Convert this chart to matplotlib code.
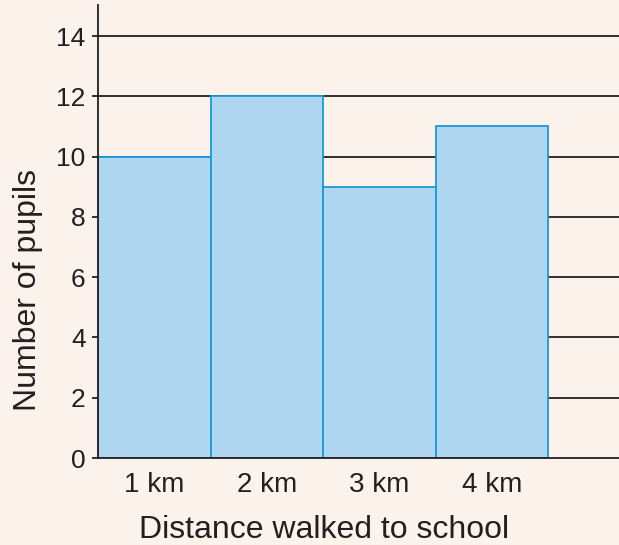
import matplotlib
matplotlib.use("Agg")
import matplotlib.pyplot as plt

distances = ["1 km", "2 km", "3 km", "4 km"]
pupils = [10, 12, 9, 11]
y_ticks = [0, 2, 4, 6, 8, 10, 12, 14]

bg = "#fcf2ec"
ink = "#231f20"

plt.rcParams["font.family"] = ["Liberation Sans", "DejaVu Sans"]

fig = plt.figure(figsize=(6.19, 5.45), dpi=100, facecolor=bg)
ax = fig.add_axes([98/619, 87/545, 521/619, 453/545], facecolor=bg)

for y in y_ticks[1:]:
    ax.axhline(y, color=ink, lw=1.3, zorder=1)

xs = [i + 0.5 for i in range(len(pupils))]
ax.bar(xs, pupils, width=1.0, color="#aed6f0", edgecolor="#1a9ad6",
       linewidth=1.3, zorder=2)

ax.set_xlim(0, 4.63)
ax.set_ylim(0, 15.03)
ax.set_xticks(xs)
ax.set_xticklabels(distances)
ax.set_yticks(y_ticks)
ax.tick_params(axis="x", length=0, pad=10, labelsize=20, colors=ink)
ax.tick_params(axis="y", length=4, width=1.3, pad=5, labelsize=19, colors=ink)

for side in ["top", "right"]:
    ax.spines[side].set_visible(False)
ax.spines["left"].set_color(ink)
ax.spines["left"].set_linewidth(1.3)
ax.spines["bottom"].set_color(ink)
ax.spines["bottom"].set_linewidth(1.3)

ax.set_xlabel("Distance walked to school", fontsize=23, color=ink)
ax.xaxis.label.set_va("baseline")
ax.xaxis.set_label_coords(0.433, -0.176)

ax.set_ylabel("Number of pupils", fontsize=23, color=ink)
ax.yaxis.label.set_va("center")
ax.yaxis.set_label_coords(-0.135, 0.371)

fig.savefig("out.png", dpi=100, facecolor=bg)
